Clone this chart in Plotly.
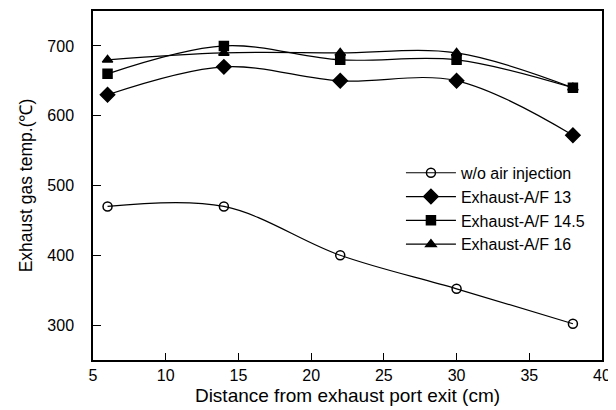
import plotly.graph_objects as go

distance = [6, 14, 22, 30, 38]
wo_air = [470, 470, 400, 352, 302]
af13 = [630, 670, 650, 650, 572]
af145 = [660, 700, 680, 680, 640]
af16 = [680, 690, 690, 690, 640]

series = [
    ("w/o air injection", wo_air, "circle-open", 9),
    ("Exhaust-A/F 13", af13, "diamond", 11),
    ("Exhaust-A/F 14.5", af145, "square", 9),
    ("Exhaust-A/F 16", af16, "triangle-up", 9),
]

fig = go.Figure()
for name, ys, sym, sz in series:
    fig.add_trace(go.Scatter(
        x=distance, y=ys, name=name, mode="lines+markers",
        line=dict(color="black", width=1.2, shape="spline", smoothing=1),
        marker=dict(symbol=sym, size=sz, color="black",
                    line=dict(color="black", width=1.5)),
    ))

font = "Liberation Sans, Arial, sans-serif"
# page body has an 8px default margin, so the figure is sized to fill the rest
fig.update_layout(
    width=608, height=402,
    margin=dict(l=85, r=14, t=3, b=50),
    paper_bgcolor="white", plot_bgcolor="white",
    font=dict(family=font, size=16, color="black"),
    showlegend=True,
    legend=dict(x=0.605, y=0.585, xanchor="left", yanchor="top",
                bgcolor="rgba(0,0,0,0)", borderwidth=0,
                font=dict(size=16, family=font), tracegroupgap=0,
                itemwidth=50),
    xaxis=dict(range=[5, 40], tickmode="array", tickvals=[5, 10, 15, 20, 25, 30, 35, 40],
               ticks="inside", ticklen=7, tickcolor="black", tickwidth=1.2,
               showline=True, linecolor="black", linewidth=1.5, mirror=True,
               showgrid=False, zeroline=False, automargin=False,
               ticklabelstandoff=0,
               title=dict(text="Distance from exhaust port exit (cm)", font=dict(size=19), standoff=6),
               tickfont=dict(size=16)),
    yaxis=dict(range=[250, 750], tickmode="array", tickvals=[300, 400, 500, 600, 700],
               ticks="inside", ticklen=8, tickcolor="black", tickwidth=1.2,
               showline=True, linecolor="black", linewidth=1.5, mirror=True,
               showgrid=False, zeroline=False, automargin=False,
               ticklabelstandoff=14,
               title=dict(text="Exhaust gas temp.(℃)", font=dict(size=17.5), standoff=10),
               tickfont=dict(size=16)),
)
fig.write_html("out.html")
